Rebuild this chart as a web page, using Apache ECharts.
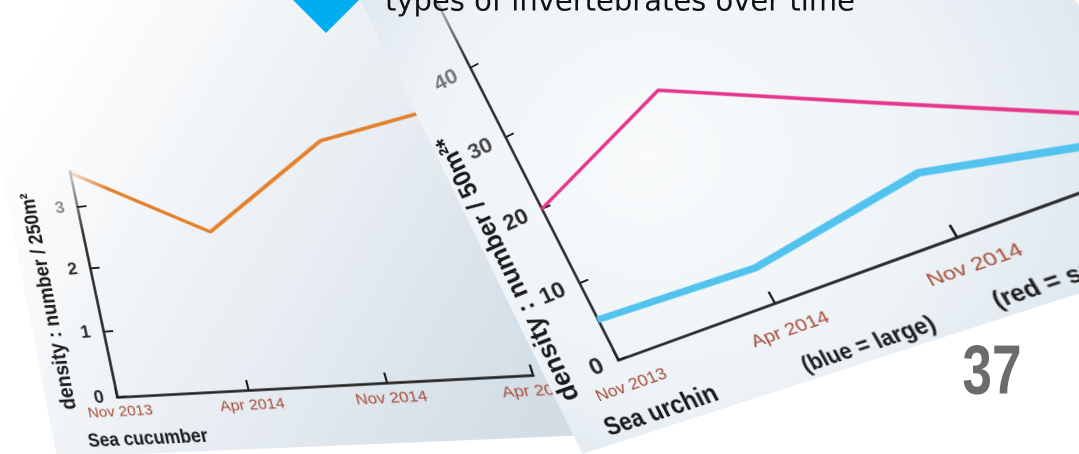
<!DOCTYPE html>
<html>
<head>
<meta charset="utf-8">
<title>Density of types of invertebrates over time</title>
<script src="https://cdn.jsdelivr.net/npm/echarts@6/dist/echarts.min.js"></script>
<style>
  html, body { margin: 0; padding: 0; background: #fff; }
  #stage { position: relative; width: 1079px; height: 454px; overflow: hidden; }
  .sheet { position: absolute; left: 0; top: 0; transform-origin: 0 0; }
  #cucumber { width: 520px; height: 510px; }
  #urchin { width: 580px; height: 670px; }
  #page { position: absolute; left: 0; top: 0; width: 1079px; height: 454px; }
</style>
</head>
<body>
<div id="stage">
  <div id="cucumber" class="sheet"></div>
  <div id="urchin" class="sheet"></div>
  <div id="page"></div>
</div>
<script>
// survey dates
const surveyDates = ['Nov 2013', 'Apr 2014', 'Nov 2014', 'Apr 2015']

// sea cucumber : number / 250m2
const cucumberDensity = [3.57, 2.42, 3.69, 4.05]
const cucumberTicks = [0, 1, 2, 3]

// sea urchin : number / 50m2
const urchinSmall = [20, 27, 15.7, 4.6]   // red
const urchinLarge = [5.2, 4.3, 7.4, 2.6]  // blue
const urchinTicks = [0, 10, 20, 30, 40]

const sans = "'Liberation Sans', Arial, sans-serif"
const ink = '#1f1f1f'
const pen = '#a64b36'

// puts the local rect of an element onto a screen quad [tl, tr, br, bl]
function warp(el, rect, quad) {
    const [[x0, y0], [x1, y1], [x2, y2], [x3, y3]] = quad
    const dx1 = x1 - x2, dx2 = x3 - x2, dx3 = x0 - x1 + x2 - x3
    const dy1 = y1 - y2, dy2 = y3 - y2, dy3 = y0 - y1 + y2 - y3
    const den = dx1 * dy2 - dx2 * dy1
    const g = (dx3 * dy2 - dx2 * dy3) / den
    const h = (dx1 * dy3 - dx3 * dy1) / den
    const H = [
        [x1 - x0 + g * x1, x3 - x0 + h * x3, x0],
        [y1 - y0 + g * y1, y3 - y0 + h * y3, y0],
        [g, h, 1]
    ]
    const M = H.map(r => [r[0] / rect.w, r[1] / rect.h, r[2] - r[0] * rect.x / rect.w - r[1] * rect.y / rect.h])
    el.style.transform = 'matrix3d(' + [
        M[0][0], M[1][0], 0, M[2][0],
        M[0][1], M[1][1], 0, M[2][1],
        0, 0, 1, 0,
        M[0][2], M[1][2], 0, M[2][2]
    ].join(',') + ')'
}

// axis line that fades out towards its top end
function fadingInk(stop) {
    return new echarts.graphic.LinearGradient(0, 0, 0, 1, [
        { offset: 0, color: 'rgba(31,31,31,0.2)' },
        { offset: stop, color: ink },
        { offset: 1, color: ink }
    ])
}

function valueAxis(ticks, labelColor, size, margin, fade) {
    return {
        type: 'value',
        splitLine: { show: false },
        axisLine: { show: true, lineStyle: { color: fadingInk(fade), width: 2.5 } },
        axisTick: { show: true, inside: true, length: 10, customValues: ticks, lineStyle: { color: ink, width: 2 } },
        axisLabel: {
            customValues: ticks, margin: margin, fontSize: size, fontWeight: 'bold',
            fontFamily: sans, color: labelColor
        }
    }
}

function dateAxis(size, margin, tickLen) {
    return {
        type: 'category', data: surveyDates, boundaryGap: false,
        axisLine: { lineStyle: { color: ink, width: 2.5 } },
        axisTick: { inside: true, length: tickLen, lineStyle: { color: ink, width: 2 } },
        axisLabel: { interval: 0, margin: margin, fontSize: size, fontFamily: sans, color: pen }
    }
}

// bold note, squeezed a little to look like the condensed lettering
function label(text, x, y, size, opts) {
    return Object.assign({
        type: 'text', x: x, y: y, scaleX: 0.85,
        style: {
            text: text, fontSize: size, fontWeight: 'bold', fontFamily: sans,
            fill: '#1a1a1a', align: 'center', verticalAlign: 'middle'
        }
    }, opts || {})
}

// sea cucumber sheet
const cucumberEl = document.getElementById('cucumber')
warp(cucumberEl, { x: 95, y: 246, w: 384, h: 204 }, [[77, 207], [470, 171.4], [533, 375], [117, 397]])
const cucumberChart = echarts.init(cucumberEl, null, { devicePixelRatio: 2 })
cucumberChart.setOption({
    animation: false,
    grid: { left: 95, top: 205.2, width: 384, height: 244.8, outerBoundsMode: 'none' },
    xAxis: dateAxis(15, 8, 10),
    yAxis: Object.assign(
        valueAxis(cucumberTicks, v => (v >= 3 ? '#8c8c8c' : '#2a2a2a'), 18, 13, 0.3),
        { min: 0, max: 3.6, interval: 1 }
    ),
    series: [{
        type: 'line', data: cucumberDensity, symbol: 'none', clip: false,
        lineStyle: {
            width: 3.8,
            color: new echarts.graphic.LinearGradient(0, 0, 1, 0, [
                { offset: 0, color: 'rgba(227,129,45,0.15)' },
                { offset: 0.1, color: '#e3812d' },
                { offset: 1, color: '#e3812d' }
            ])
        }
    }],
    graphic: [
        {
            type: 'rect', z: -10, shape: { x: 23, y: 10, width: 494, height: 498 },
            style: {
                fill: {
                    type: 'linear', x: 0.1, y: 0.15, x2: 1, y2: 0.85,
                    colorStops: [
                        { offset: 0, color: '#ffffff' },
                        { offset: 0.25, color: '#f6f8fa' },
                        { offset: 0.6, color: '#e7edf2' },
                        { offset: 1, color: '#d2dde6' }
                    ]
                }
            }
        },
        label('Sea cucumber', 116, 494, 19, { scaleX: 0.9 }),
        label('density : number / 250m²', 46, 343, 21, { rotation: Math.PI / 2, scaleX: 0.95 })
    ]
})

// sea urchin sheet
const urchinEl = document.getElementById('urchin')
warp(urchinEl, { x: 100, y: 232, w: 310, h: 348 }, [[470, 68], [762.1, -89.6], [957, 237], [618, 360]])
const urchinChart = echarts.init(urchinEl, null, { devicePixelRatio: 2 })
urchinChart.setOption({
    animation: false,
    grid: { left: 100, top: 145, width: 465, height: 435, outerBoundsMode: 'none' },
    xAxis: dateAxis(17, 20, 12),
    yAxis: Object.assign(
        valueAxis(urchinTicks, v => (v >= 40 ? '#7a7a7a' : v >= 30 ? '#4a4a4a' : '#2a2a2a'), 24, 16, 0.18),
        { min: 0, max: 50, interval: 10 }
    ),
    series: [
        { type: 'line', data: urchinSmall, symbol: 'none', clip: false, lineStyle: { color: '#e6358c', width: 3.5 } },
        { type: 'line', data: urchinLarge, symbol: 'none', clip: false, lineStyle: { color: '#52c3ee', width: 7 } }
    ],
    graphic: [
        {
            type: 'rect', z: -10, shape: { x: 24, y: 14, width: 546, height: 644 },
            style: {
                fill: {
                    type: 'radial', x: 0.35, y: 0.6, r: 0.8,
                    colorStops: [
                        { offset: 0, color: '#f9fbfc' },
                        { offset: 0.55, color: '#eef3f7' },
                        { offset: 1, color: '#d6e2ea' }
                    ]
                },
                shadowBlur: 16, shadowOffsetX: -4, shadowColor: 'rgba(40,70,100,0.18)'
            }
        },
        label('Sea urchin', 114, 642, 26),
        label('(blue = large)', 250, 644, 21),
        label('(red = small)', 409, 643, 21),
        label('density : number / 50m²*', 40, 445, 28, { rotation: Math.PI / 2, scaleX: 0.97 })
    ]
})
// the two legend notes start at their x
urchinChart.setOption({
    graphic: [{}, {}, { style: { align: 'left' } }, { style: { align: 'left' } }, {}]
})

// page furniture: marker, heading, page number
const pageChart = echarts.init(document.getElementById('page'), null, { devicePixelRatio: 2 })
pageChart.setOption({
    animation: false,
    graphic: [
        {
            type: 'polygon', shape: { points: [[326, -33], [359, 0], [326, 33], [293, 0]] },
            style: { fill: '#00aeef' }
        },
        {
            type: 'text', x: 385, y: 3, style: {
                text: 'types of invertebrates over time', fontSize: 29, fontWeight: 'normal',
                fontFamily: "'DejaVu Sans', sans-serif", fill: '#111', align: 'left', verticalAlign: 'middle'
            }
        },
        {
            type: 'text', x: 992, y: 374, scaleX: 0.76, style: {
                text: '37', fontSize: 70, fontWeight: 'bold', fontFamily: sans,
                fill: '#6b6b6b', align: 'center', verticalAlign: 'middle'
            }
        }
    ]
})
</script>
</body>
</html>
